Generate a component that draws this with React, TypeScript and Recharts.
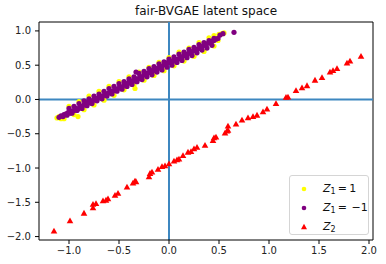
import { ReferenceLine, Scatter, ScatterChart, XAxis, YAxis } from 'recharts';

// Z1 = 1 group (yellow dots), mostly visible along the edges of the band
const yellowX = [
  -1.12, -1.1, -1.08, -1.0, -0.9, -0.8, -0.7, -0.6, -0.5, -0.4, -0.3, -0.2, -0.1, 0.0, 0.1, 0.2,
  0.3, 0.4, 0.45, 0.5, 0.53, 0.55, -1.05, -0.95, -0.91, -0.85, -0.75, -0.65, -0.55, -0.45, -0.35,
  -0.34, -0.25, -0.15, -0.05, 0.05, 0.15, 0.25, 0.35, 0.45, 0.49,
];
const yellowY = [
  -0.27, -0.25, -0.28, -0.1, -0.03, 0.05, 0.12, 0.19, 0.26, 0.33, 0.4, 0.47, 0.54, 0.61, 0.69, 0.75,
  0.83, 0.9, 0.93, 0.95, 0.96, 0.97, -0.28, -0.22, -0.25, -0.15, -0.08, -0.01, 0.06, 0.14, 0.21,
  0.16, 0.28, 0.35, 0.42, 0.49, 0.56, 0.63, 0.7, 0.78, 0.86,
];

// Z1 = -1 group (purple dots)
const purpleX = [
  -1.1, -1.08, -1.06, -1.05, -1.03, -1.01, -0.99, -0.97, -0.95, -0.93, -0.91, -0.89, -0.87, -0.85,
  -0.83, -0.81, -0.79, -0.77, -0.75, -0.73, -0.71, -0.69, -0.67, -0.65, -0.63, -0.61, -0.59, -0.57,
  -0.55, -0.53, -0.51, -0.49, -0.47, -0.45, -0.43, -0.41, -0.39, -0.37, -0.35, -0.33, -0.31, -0.29,
  -0.27, -0.25, -0.23, -0.21, -0.19, -0.17, -0.15, -0.13, -0.11, -0.09, -0.07, -0.05, -0.03, -0.01,
  0.01, 0.03, 0.05, 0.07, 0.09, 0.11, 0.13, 0.15, 0.17, 0.19, 0.21, 0.23, 0.25, 0.27, 0.29, 0.31,
  0.33, 0.35, 0.37, 0.39, 0.41, 0.43, 0.45, 0.47, 0.49, 0.51, 0.54, 0.65, -0.33,
  // upper edge
  -1.0, -0.95, -0.9, -0.85, -0.8, -0.75, -0.7, -0.65, -0.6, -0.55, -0.5, -0.45, -0.4, -0.35, -0.3,
  -0.25, -0.2, -0.15, -0.1, -0.05, 0.0, 0.05, 0.1, 0.15, 0.2, 0.25, 0.3, 0.35, 0.4, 0.45,
  // lower edge
  -1.02, -0.97, -0.92, -0.87, -0.82, -0.77, -0.72, -0.67, -0.62, -0.57, -0.52, -0.47, -0.42, -0.37,
  -0.32, -0.27, -0.22, -0.17, -0.12, -0.07, -0.02, 0.03, 0.08, 0.13, 0.18, 0.23, 0.28, 0.33, 0.38,
  0.43,
];
const purpleY = [
  -0.26, -0.24, -0.25, -0.22, -0.21, -0.19, -0.2, -0.17, -0.16, -0.13, -0.14, -0.11, -0.1, -0.08,
  -0.07, -0.04, -0.05, -0.02, -0.01, 0.01, 0.02, 0.03, 0.05, 0.06, 0.08, 0.09, 0.1, 0.12, 0.13, 0.14,
  0.16, 0.18, 0.18, 0.21, 0.21, 0.24, 0.24, 0.27, 0.27, 0.3, 0.3, 0.33, 0.33, 0.36, 0.36, 0.39, 0.39,
  0.42, 0.42, 0.45, 0.45, 0.48, 0.48, 0.51, 0.51, 0.54, 0.54, 0.56, 0.56, 0.58, 0.59, 0.61, 0.62,
  0.64, 0.65, 0.67, 0.68, 0.7, 0.71, 0.73, 0.74, 0.76, 0.77, 0.79, 0.8, 0.82, 0.83, 0.85, 0.86, 0.88,
  0.89, 0.94, 0.96, 0.98, 0.4,
  // upper edge
  -0.13, -0.1, -0.06, -0.02, 0.01, 0.05, 0.08, 0.12, 0.16, 0.19, 0.23, 0.26, 0.3, 0.33, 0.38, 0.41,
  0.45, 0.48, 0.52, 0.55, 0.59, 0.62, 0.66, 0.69, 0.73, 0.76, 0.8, 0.83, 0.86, 0.89,
  // lower edge
  -0.23, -0.2, -0.16, -0.13, -0.09, -0.06, -0.02, 0.01, 0.05, 0.08, 0.12, 0.15, 0.19, 0.22, 0.26,
  0.29, 0.33, 0.36, 0.4, 0.43, 0.47, 0.5, 0.54, 0.57, 0.61, 0.64, 0.68, 0.72, 0.75, 0.79,
];

// Z2 group (red triangles)
const redX = [
  -1.15, -0.99, -0.85, -0.76, -0.76, -0.73, -0.66, -0.63, -0.61, -0.54, -0.51, -0.42, -0.36, -0.34,
  -0.33, -0.2, -0.19, -0.17, -0.11, -0.07, -0.04, 0.0, 0.05, 0.08, 0.1, 0.14, 0.19, 0.22, 0.25, 0.28,
  0.36, 0.44, 0.45, 0.47, 0.56, 0.58, 0.59, 0.59, 0.67, 0.73, 0.79, 0.84, 0.88, 0.94, 0.98, 1.07,
  1.17, 1.19, 1.27, 1.33, 1.38, 1.46, 1.53, 1.61, 1.64, 1.68, 1.78, 1.81, 1.92,
];
const redY = [
  -1.92, -1.77, -1.66, -1.58, -1.53, -1.52, -1.48, -1.47, -1.45, -1.4, -1.37, -1.28, -1.22, -1.19,
  -1.2, -1.13, -1.08, -1.06, -1.02, -0.98, -0.97, -0.94, -0.9, -0.88, -0.87, -0.82, -0.77, -0.76,
  -0.72, -0.7, -0.67, -0.6, -0.56, -0.55, -0.49, -0.46, -0.45, -0.39, -0.36, -0.3, -0.27, -0.25,
  -0.23, -0.18, -0.14, -0.06, 0.03, 0.035, 0.13, 0.17, 0.2, 0.28, 0.32, 0.4, 0.42, 0.45, 0.53, 0.56,
  0.63,
];

const xTicks = [-1, -0.5, 0, 0.5, 1, 1.5, 2];
const yTicks = [-2, -1.5, -1, -0.5, 0, 0.5, 1];

const toPoints = (xs: number[], ys: number[]) => xs.map((x, i) => ({ x, y: ys[i] }));

const yellowData = toPoints(yellowX, yellowY);
const purpleData = toPoints(purpleX, purpleY);
const redData = toPoints(redX, redY);

const FONT = '"DejaVu Sans", sans-serif';
const AXIS_BLUE = '#3d87c0';

const fmt = (v: number) => (v < 0 ? '\u2212' : '') + Math.abs(v).toFixed(1);

const dot = (color: string) => (p: any) => <circle cx={p.cx} cy={p.cy} r={2.6} fill={color} />;
const tri = (color: string) => (p: any) => (
  <polygon
    points={`${p.cx},${p.cy - 3.4} ${p.cx + 3.3},${p.cy + 2.4} ${p.cx - 3.3},${p.cy + 2.4}`}
    fill={color}
  />
);

const label = (sub: string, rest: string) => (
  <span style={{ whiteSpace: 'nowrap' }}>
    <i>Z</i>
    <sub style={{ fontSize: 8, verticalAlign: '-2px' }}>{sub}</sub>
    {rest}
  </span>
);

function LegendBox() {
  const rows = [
    { mark: <circle cx={5} cy={5} r={2.3} fill="#ffff00" />, text: label('1', '\u2009=\u20091') },
    { mark: <circle cx={5} cy={5} r={2.3} fill="#800080" />, text: label('1', '\u2009=\u2009\u2009\u22121') },
    { mark: <polygon points="5,1.8 8,7.3 2,7.3" fill="#ff0000" />, text: label('2', '') },
  ];
  return (
    <div
      style={{
        position: 'absolute',
        left: 289,
        top: 175,
        width: 80,
        height: 60,
        border: '1px solid #d5d5d5',
        borderRadius: 3,
        background: 'rgba(255,255,255,0.85)',
        fontFamily: FONT,
        fontSize: 11,
        color: '#111',
        boxSizing: 'border-box',
        paddingTop: 3,
      }}
    >
      {rows.map((r, i) => (
        <div key={i} style={{ display: 'flex', alignItems: 'center', height: 19 }}>
          <svg width={10} height={10} style={{ marginLeft: 9, marginRight: 14 }}>
            {r.mark}
          </svg>
          {r.text}
        </div>
      ))}
    </div>
  );
}

export default function App() {
  return (
    <div style={{ position: 'absolute', left: 0, top: 0, width: 386, height: 264, background: '#fff' }}>
      <div
        style={{
          position: 'absolute',
          left: 39,
          width: 334,
          top: 4,
          textAlign: 'center',
          fontFamily: FONT,
          fontSize: 12,
          color: '#111',
        }}
      >
        fair-BVGAE latent space
      </div>
      <ScatterChart width={386} height={264} margin={{ top: 22, right: 13, left: 0, bottom: 4 }}>
        <XAxis
          type="number"
          dataKey="x"
          domain={[-1.3, 2.04]}
          ticks={xTicks}
          tickFormatter={fmt}
          height={20}
          allowDataOverflow
          stroke="#000"
          tickSize={4}
          tickMargin={3}
          tick={{ fontSize: 10, fontFamily: FONT, fill: '#222' }}
        />
        <YAxis
          type="number"
          dataKey="y"
          domain={[-2.05, 1.13]}
          ticks={yTicks}
          tickFormatter={fmt}
          width={39}
          allowDataOverflow
          stroke="#000"
          tickSize={4}
          tickMargin={4}
          tick={{ fontSize: 10, fontFamily: FONT, fill: '#222' }}
        />
        <ReferenceLine y={1.13} stroke="#000" strokeWidth={1} />
        <ReferenceLine x={2.04} stroke="#000" strokeWidth={1} />
        <Scatter data={yellowData} fill="#ffff00" shape={dot('#ffff00')} isAnimationActive={false} />
        <Scatter data={purpleData} fill="#800080" shape={dot('#800080')} isAnimationActive={false} />
        <Scatter data={redData} fill="#ff0000" shape={tri('#ff0000')} isAnimationActive={false} />
        <ReferenceLine x={0} stroke={AXIS_BLUE} strokeWidth={2} />
        <ReferenceLine y={0} stroke={AXIS_BLUE} strokeWidth={2} />
      </ScatterChart>
      <LegendBox />
    </div>
  );
}
